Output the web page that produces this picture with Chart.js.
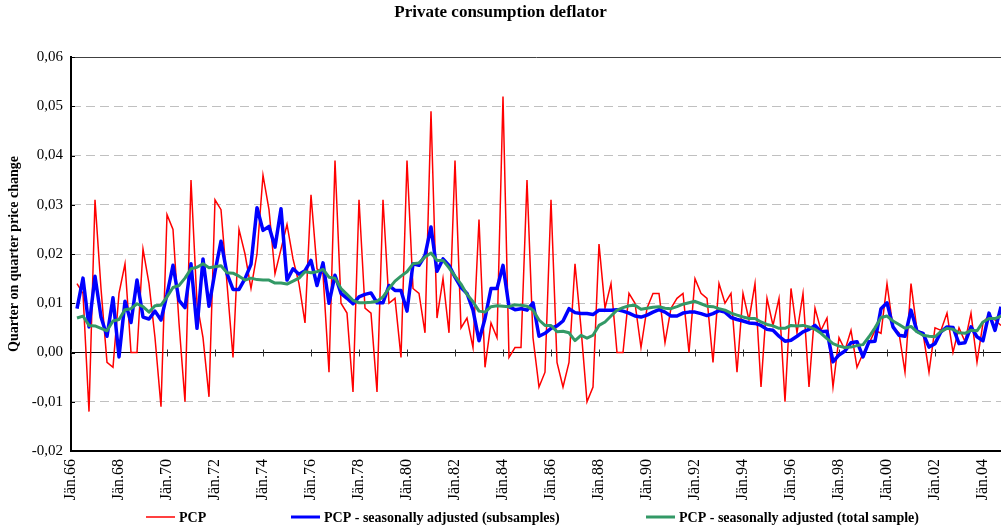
<!DOCTYPE html>
<html><head><meta charset="utf-8">
<script src="https://cdn.jsdelivr.net/npm/chart.js@4/dist/chart.umd.min.js"></script>
<style>html,body{margin:0;padding:0;background:#fff;overflow:hidden}#wrap{width:1001px;height:530px}</style>
</head><body><div id="wrap"><canvas id="c" width="1001" height="530"></canvas></div>
<script>
// ---- data ----
const years = [1966,1967,1968,1969,1970,1971,1972,1973,1974,1975,1976,1977,1978,1979,1980,1981,1982,1983,1984,1985,1986,1987,1988,1989,1990,1991,1992,1993,1994,1995,1996,1997,1998,1999,2000,2001,2002,2003,2004];
const quarterNames = ["Jän","Apr","Jul","Okt"];
const tickLabels = ["Jän.66","Jän.68","Jän.70","Jän.72","Jän.74","Jän.76","Jän.78","Jän.80","Jän.82","Jän.84","Jän.86","Jän.88","Jän.90","Jän.92","Jän.94","Jän.96","Jän.98","Jän.00","Jän.02","Jän.04"];
const yTicks = [-0.02,-0.01,0,0.01,0.02,0.03,0.04,0.05,0.06];
const seriesNames = ["PCP","PCP - seasonally adjusted (subsamples)","PCP - seasonally adjusted (total sample)"];

const pcp = [null,
0.014,0.012,-0.012,0.031,0.013,-0.002,-0.003,0.012,0.018,0.0,
0.0,0.021,0.014,0.003,-0.011,0.028,0.025,0.006,-0.010,0.035,
0.010,0.003,-0.009,0.031,0.029,0.014,-0.001,0.025,0.020,0.013,
0.020,0.036,0.029,0.016,0.021,0.026,0.019,0.014,0.006,0.032,
0.017,0.016,-0.004,0.039,0.010,0.008,-0.008,0.031,0.009,0.008,
-0.008,0.031,0.010,0.011,-0.001,0.039,0.013,0.012,0.004,0.049,
0.007,0.015,0.004,0.039,0.005,0.007,0.001,0.027,-0.003,0.006,
0.003,0.052,-0.001,0.001,0.001,0.035,0.003,-0.007,-0.004,0.031,
-0.002,-0.007,-0.002,0.018,0.005,-0.010,-0.007,0.022,0.009,0.014,
0.0,0.0,0.012,0.010,0.001,0.009,0.012,0.012,0.002,0.009,
0.011,0.012,0.0,0.015,0.012,0.011,-0.002,0.014,0.010,0.012,
-0.004,0.012,0.0066,0.014,-0.007,0.011,0.0055,0.011,-0.010,0.013,
0.004,0.012,-0.007,0.009,0.0045,0.007,-0.007,0.003,0.0005,0.0045,
-0.003,-0.0002,0.0018,0.0045,0.0039,0.014,0.005,0.004,-0.004,0.014,
0.0045,0.004,-0.004,0.005,0.0045,0.008,0.0,0.005,0.0022,0.008,
-0.002,0.006,0.0076,0.0066,0.0055];

const pcpSaSub = [null,
0.0089,0.0151,0.0052,0.0155,0.0072,0.0033,0.0111,-0.0009,0.0104,0.0061,
0.0147,0.0072,0.0068,0.0084,0.0066,0.0118,0.0177,0.0106,0.0091,0.0180,
0.0049,0.0190,0.0094,0.0164,0.0226,0.0160,0.0128,0.0128,0.0150,0.0179,
0.0294,0.0248,0.0256,0.0214,0.0292,0.0147,0.0170,0.0159,0.0166,0.0187,
0.0136,0.0182,0.0100,0.0157,0.0120,0.0110,0.0099,0.0113,0.0118,0.0121,
0.0101,0.0101,0.0136,0.0126,0.0126,0.0084,0.0180,0.0177,0.0197,0.0255,
0.0165,0.0190,0.0177,0.0153,0.0132,0.0120,0.0086,0.0024,0.0069,0.0130,
0.0130,0.0177,0.0093,0.0087,0.0089,0.0086,0.0101,0.0033,0.0039,0.0049,
0.0054,0.0064,0.0089,0.0081,0.0079,0.0079,0.0077,0.0086,0.0086,0.0086,
0.0087,0.0084,0.0080,0.0074,0.0072,0.0076,0.0082,0.0087,0.0082,0.0074,
0.0074,0.0080,0.0082,0.0082,0.0079,0.0075,0.0079,0.0085,0.0082,0.0071,
0.0067,0.0064,0.0060,0.0059,0.0055,0.0047,0.0045,0.0033,0.0023,0.0025,
0.0033,0.0042,0.0047,0.0055,0.0042,0.0043,-0.0019,-0.0005,0.0003,0.0020,
0.0022,-0.0009,0.0022,0.0023,0.0089,0.0101,0.0052,0.0035,0.0033,0.0086,
0.0043,0.0039,0.0011,0.0018,0.0042,0.0052,0.0051,0.0018,0.0020,0.0052,
0.0032,0.0024,0.0080,0.0045,0.0093];

const pcpSaTot = [null,
0.0070,0.0074,0.0055,0.0054,0.0049,0.0044,0.0064,0.0067,0.0087,0.0089,
0.0099,0.0093,0.0082,0.0095,0.0096,0.0113,0.0132,0.0136,0.0151,0.0170,
0.0173,0.0180,0.0172,0.0174,0.0176,0.0162,0.0161,0.0155,0.0147,0.0151,
0.0148,0.0147,0.0147,0.0141,0.0141,0.0139,0.0145,0.0151,0.0164,0.0162,
0.0164,0.0169,0.0153,0.0151,0.0130,0.0118,0.0106,0.0101,0.0101,0.0102,
0.0104,0.0113,0.0130,0.0145,0.0155,0.0164,0.0180,0.0182,0.0194,0.0202,
0.0187,0.0187,0.0172,0.0155,0.0139,0.0118,0.0103,0.0084,0.0082,0.0093,
0.0095,0.0094,0.0093,0.0097,0.0096,0.0094,0.0086,0.0066,0.0055,0.0055,
0.0042,0.0043,0.0040,0.0024,0.0035,0.0029,0.0035,0.0055,0.0062,0.0074,
0.0086,0.0091,0.0095,0.0096,0.0088,0.0090,0.0092,0.0093,0.0090,0.0089,
0.0093,0.0098,0.0101,0.0104,0.0099,0.0094,0.0093,0.0089,0.0086,0.0080,
0.0076,0.0072,0.0069,0.0069,0.0062,0.0057,0.0054,0.0049,0.0049,0.0055,
0.0054,0.0055,0.0052,0.0047,0.0039,0.0028,0.0018,0.0013,0.0010,0.0011,
0.0014,0.0016,0.0032,0.0050,0.0071,0.0074,0.0064,0.0057,0.0049,0.0053,
0.0042,0.0035,0.0033,0.0032,0.0043,0.0049,0.0047,0.0040,0.0039,0.0045,
0.0044,0.0062,0.0069,0.0069,0.0074];

// ---- categories ----
const categories = [];
years.forEach(y => quarterNames.forEach(q => categories.push(q + "." + String(y % 100).padStart(2, "0"))));

// ---- helpers ----
const SERIF = "'Liberation Serif','Times New Roman',serif";
const fmt = v => (v < -1e-9 ? "-" : "") + Math.abs(v).toFixed(2).replace(".", ",");
const isZero = v => Math.abs(v) < 1e-9;

const legendLayout = { y: 517, sampleLen: 29, gap: 4, starts: [146, 291, 646] };

const decor = {
  id: "decor",
  beforeDatasetsDraw(chart) {
    const { ctx, chartArea, scales: { x, y } } = chart;
    const y0 = y.getPixelForValue(0);
    ctx.save();
    ctx.strokeStyle = "#333";
    ctx.lineWidth = 1;
    categories.forEach((c, i) => {
      if (!tickLabels.includes(c)) return;
      const px = Math.round(x.getPixelForValue(i)) + 0.5;
      ctx.beginPath(); ctx.moveTo(px, y0 - 3); ctx.lineTo(px, y0 + 4); ctx.stroke();
    });
    ctx.strokeStyle = "#000";
    yTicks.forEach(v => {
      const py = Math.round(y.getPixelForValue(v)) + 0.5;
      ctx.beginPath(); ctx.moveTo(chartArea.left, py); ctx.lineTo(chartArea.left + 4, py); ctx.stroke();
    });
    ctx.restore();
  },
  afterDraw(chart) {
    const { ctx } = chart;
    ctx.save();
    ctx.font = "bold 14px " + SERIF;
    ctx.textBaseline = "middle";
    ctx.fillStyle = "#000";
    chart.data.datasets.forEach((ds, i) => {
      const x0 = legendLayout.starts[i];
      ctx.strokeStyle = ds.borderColor;
      ctx.lineWidth = Math.min(ds.borderWidth, 3);
      ctx.beginPath();
      ctx.moveTo(x0, legendLayout.y); ctx.lineTo(x0 + legendLayout.sampleLen, legendLayout.y);
      ctx.stroke();
      ctx.fillText(ds.label, x0 + legendLayout.sampleLen + legendLayout.gap, legendLayout.y + 1);
    });
    ctx.restore();
  }
};

new Chart(document.getElementById("c"), {
  type: "line",
  data: {
    labels: categories,
    datasets: [
      { label: seriesNames[0], data: pcp, borderColor: "#ff0000", backgroundColor: "#ff0000", borderWidth: 1.5, pointRadius: 0, tension: 0, order: 3 },
      { label: seriesNames[1], data: pcpSaSub, borderColor: "#0000ff", backgroundColor: "#0000ff", borderWidth: 3.5, pointRadius: 0, tension: 0, order: 2, borderJoinStyle: "round" },
      { label: seriesNames[2], data: pcpSaTot, borderColor: "#339966", backgroundColor: "#339966", borderWidth: 3, pointRadius: 0, tension: 0, order: 1, borderJoinStyle: "round" }
    ]
  },
  options: {
    responsive: false,
    animation: false,
    events: [],
    layout: { padding: { left: 0, right: 0, top: 0, bottom: 27 } },
    plugins: {
      legend: { display: false },
      tooltip: { enabled: false },
      title: {
        display: true, text: "Private consumption deflator", color: "#000",
        font: { family: SERIF, size: 17, weight: "bold", lineHeight: 1.2 },
        padding: { top: 2, bottom: 34.6 }
      }
    },
    scales: {
      x: {
        type: "category", offset: false,
        grid: { display: false, drawTicks: false },
        border: { display: true, color: "#000", width: 2 },
        ticks: {
          autoSkip: false, minRotation: 90, maxRotation: 90, padding: 8, color: "#000",
          font: { family: SERIF, size: 16 },
          callback: function (v) { const l = this.getLabelForValue(v); return tickLabels.includes(l) ? l : ""; }
        },
        afterFit: s => { s.height = 52; s.paddingLeft = 0; s.paddingRight = 0; }
      },
      y: {
        min: yTicks[0], max: yTicks[yTicks.length - 1],
        afterBuildTicks: s => { s.ticks = yTicks.map(v => ({ value: v })); },
        ticks: { padding: 8, color: "#000", font: { family: SERIF, size: 15 }, callback: v => fmt(v) },
        grid: {
          drawTicks: false,
          color: c => { const v = c.tick ? c.tick.value : 0; if (isZero(v) || v < -0.0199) return "#000"; if (v > 0.0599) return "#404040"; return "#c0c0c0"; },
          lineWidth: c => { const v = c.tick ? c.tick.value : 0; if (v < -0.0199) return 2; return 1; }
        },
        border: {
          display: true, color: "#000", width: 2,
          dash: c => { if (!c.tick) return []; const v = c.tick.value; return (isZero(v) || v < -0.0199 || v > 0.0599) ? [] : [9, 5]; }
        },
        title: {
          display: true, text: "Quarter on quarter price change", color: "#000",
          font: { family: SERIF, size: 14, weight: "bold", lineHeight: 1.2 },
          padding: { top: 6, bottom: 0 }
        },
        afterFit: s => { s.width = 71; }
      }
    }
  },
  plugins: [decor]
});
</script>
</body></html>
